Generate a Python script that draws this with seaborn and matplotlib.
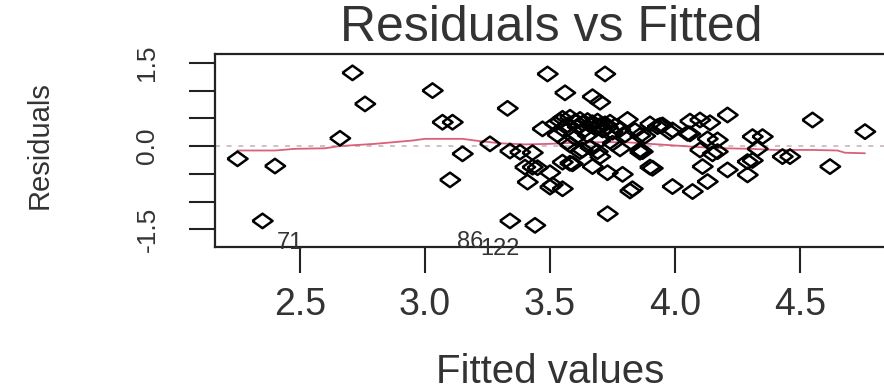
import numpy as np
import pandas as pd
import matplotlib
matplotlib.use("Agg")
import matplotlib.pyplot as plt
import seaborn as sns

# Fitted values and residuals
fitted = [2.25, 2.40, 2.35, 2.66, 2.71, 2.76, 3.03, 3.07, 3.11, 3.10,
          3.15, 3.26, 3.33, 3.34, 3.38, 3.34, 3.44, 3.40, 3.41, 3.43,
          3.47, 3.49, 3.50, 3.50, 3.51, 3.55, 3.55, 3.56, 3.55, 3.59,
          3.58, 3.57, 3.62, 3.63, 3.67, 3.67, 3.70, 3.72, 3.73, 3.73,
          3.79, 3.70, 3.69, 3.82, 3.81, 3.86, 3.87, 3.91, 3.93, 3.99,
          3.99, 4.05, 4.07, 4.06, 4.10, 4.14, 4.10, 4.11, 4.13, 4.17,
          4.17, 4.21, 4.21, 4.29, 4.29, 4.31, 4.35, 4.33, 4.43, 4.46,
          4.55, 4.62, 4.76,
          3.52, 3.54, 3.55, 3.57, 3.58, 3.60, 3.61, 3.62, 3.63, 3.64,
          3.65, 3.66, 3.67, 3.68, 3.69, 3.70, 3.71, 3.72, 3.73, 3.74,
          3.75, 3.76, 3.78, 3.80, 3.84, 3.88, 3.90, 3.95, 3.53, 3.60,
          3.65, 3.70, 3.75, 3.58, 3.66, 3.78, 3.94, 3.98, 4.06, 3.86,
          4.13, 4.15, 3.86, 3.90, 3.83, 4.31, 3.43, 3.45]
residuals = [-0.23, -0.36, -1.35, 0.14, 1.32, 0.76, 1.00, 0.43, 0.43, -0.61,
             -0.14, 0.04, 0.68, -0.09, -0.11, -1.35, -1.43, -0.38, -0.65, -0.38,
             0.31, 1.30, -0.48, -0.74, -0.70, -0.77, 0.31, 0.96, -0.29, -0.32,
             -0.31, 0.07, -0.10, -0.07, -0.37, 0.89, 0.79, 1.30, -0.48, -1.22,
             -0.51, -0.19, -0.10, -0.81, 0.48, -0.07, -0.10, -0.40, 0.35, 0.29,
             -0.73, 0.23, -0.82, 0.45, 0.47, 0.42, -0.07, -0.37, -0.64, -0.10,
             0.11, 0.56, -0.43, -0.52, -0.28, 0.17, 0.17, -0.05, -0.19, -0.19,
             0.47, -0.37, 0.26,
             0.40, 0.45, 0.50, 0.38, 0.52, 0.44, 0.35, 0.48, 0.41, 0.30,
             0.46, 0.38, 0.42, 0.33, 0.45, 0.37, 0.29, 0.40, 0.34, 0.43,
             0.25, 0.36, 0.30, 0.20, 0.28, 0.18, 0.40, 0.38, 0.20, 0.15,
             0.20, 0.10, 0.05, 0.02, -0.02, -0.05, 0.37, 0.25, 0.22, 0.19,
             0.13, -0.14, -0.11, -0.38, -0.77, -0.26, -0.12, -0.39]

# red smoother
smooth_x = [2.25, 2.40, 2.48, 2.60, 2.66, 2.80, 2.95, 3.00, 3.15, 3.20,
            3.30, 3.40, 3.50, 3.60, 3.70, 3.80, 3.90, 4.00, 4.10, 4.20,
            4.30, 4.40, 4.55, 4.65, 4.68, 4.76]
smooth_y = [-0.08, -0.08, -0.05, -0.04, 0.00, 0.04, 0.10, 0.13, 0.13, 0.10,
            0.05, 0.03, 0.04, 0.06, 0.07, 0.07, 0.04, 0.01, -0.02, -0.04,
            -0.05, -0.07, -0.07, -0.08, -0.12, -0.13]

# id labels of the extreme points
id_labels = ["71", "86", "122"]
id_x = [2.46, 3.18, 3.30]
id_y = [-1.74, -1.73, -1.86]

x_ticks = [2.5, 3.0, 3.5, 4.0, 4.5]
y_ticks = [-1.5, -1.0, -0.5, 0.0, 0.5, 1.0, 1.5]
y_ticklabels = ["-1.5", "", "", "0.0", "", "", "1.5"]

sns.set_theme(style="white")
plt.rcParams['font.family'] = ['Liberation Sans', 'DejaVu Sans']

df = pd.DataFrame({"fitted": fitted, "residuals": residuals})

fig = plt.figure(figsize=(8.84, 3.9), dpi=100)
ax = fig.add_axes([215 / 884, 1 - 247 / 390, (900 - 215) / 884, (247 - 54) / 390])

# reference line at zero
ax.axhline(0, color='#c9b5b8', lw=1.2, ls=(0, (3, 4)), zorder=1)

diamond = [(-1, 0), (0, 0.72), (1, 0), (0, -0.72), (-1, 0)]
sns.scatterplot(data=df, x="fitted", y="residuals", marker=diamond, s=210,
                facecolor='none', edgecolor='black', linewidth=1.8, ax=ax, zorder=3)

sns.lineplot(x=smooth_x, y=smooth_y, color='#d9607a', lw=1.3, ax=ax,
             estimator=None, sort=False, zorder=2)

for lab, lx, ly in zip(id_labels, id_x, id_y):
    ax.text(lx, ly, lab, fontsize=17, color='#333333', ha='center', va='center')

ax.set_xlim(2.16, 4.90)
ax.set_ylim(-1.82, 1.66)
ax.set_xticks(x_ticks)
ax.set_xticklabels([f"{t:.1f}" for t in x_ticks])
ax.set_yticks(y_ticks)
ax.set_yticklabels(y_ticklabels)
ax.set_xlabel('')
ax.set_ylabel('')

ax.tick_params(axis='x', direction='out', length=19, width=1.5, color='#222222',
               labelsize=27, pad=10, labelcolor='#333333', bottom=True)
ax.tick_params(axis='y', direction='out', length=19, width=1.5, color='#222222',
               labelsize=19, pad=21, labelcolor='#333333', left=True, labelrotation=90)
for lbl in ax.get_yticklabels():
    lbl.set_va('center')

for side in ['top', 'left', 'bottom']:
    ax.spines[side].set_linewidth(1.6)
    ax.spines[side].set_color('#222222')
ax.spines['right'].set_visible(False)

# axis titles placed in figure pixels
fig.text(550 / 884, 1 - 372 / 390, "Fitted values", fontsize=29, color='#333333',
         ha='center', va='center')
fig.text(40 / 884, 1 - 145 / 390, "Residuals", fontsize=21, color='#333333',
         ha='center', va='center', rotation=90)
fig.text(551 / 884, 1 - 28 / 390, "Residuals vs Fitted", fontsize=36, color='#333333',
         ha='center', va='center')

fig.savefig("out.png", dpi=100)
